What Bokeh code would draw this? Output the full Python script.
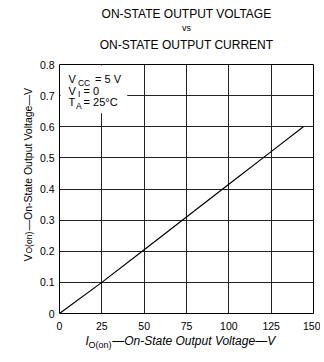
from bokeh.plotting import figure
from bokeh.models import Range1d, FixedTicker, Label
from bokeh.embed import file_html
from bokeh.resources import INLINE
import math

# data
current = [0, 25, 50, 75, 100, 125, 144]
voltage = [0, 0.10, 0.205, 0.31, 0.415, 0.52, 0.60]
x_ticks = [0, 25, 50, 75, 100, 125, 150]
y_ticks = [0, 0.1, 0.2, 0.3, 0.4, 0.5, 0.6, 0.7, 0.8]
y_tick_labels = {0: "0", 0.1: "0.1", 0.2: "0.2", 0.3: "0.3", 0.4: "0.4",
                 0.5: "0.5", 0.6: "0.6", 0.7: "0.7", 0.8: "0.8"}
title_lines = ["ON-STATE OUTPUT VOLTAGE", "vs", "ON-STATE OUTPUT CURRENT"]
axis_main = "\u2014On-State Output Voltage\u2014V"
x_sym, y_sym, sub = "I", "V", "O(on)"

FONT = "Liberation Sans"

p = figure(width=320, height=355, output_backend="svg", toolbar_location=None,
           x_range=Range1d(0, 150), y_range=Range1d(0, 0.8),
           min_border_left=59, min_border_right=7, min_border_top=64, min_border_bottom=42)
p.title.visible = False

p.outline_line_color = "black"
p.outline_line_width = 1
p.background_fill_color = "white"
p.border_fill_color = "white"

for ax in (p.xaxis, p.yaxis):
    ax.axis_line_color = None
    ax.major_tick_line_color = None
    ax.minor_tick_line_color = None
    ax.major_tick_out = 0
    ax.major_tick_in = 0
    ax.minor_tick_out = 0
    ax.major_label_text_font = FONT
    ax.major_label_text_font_size = "10.5px"
    ax.major_label_text_color = "black"

p.xaxis.ticker = FixedTicker(ticks=x_ticks)
p.yaxis.ticker = FixedTicker(ticks=y_ticks)
p.yaxis.major_label_overrides = y_tick_labels
p.xaxis.major_label_standoff = 8
p.yaxis.major_label_standoff = 5

p.grid.grid_line_color = "#222222"
p.grid.grid_line_width = 1
p.xgrid.ticker = FixedTicker(ticks=x_ticks)
p.ygrid.ticker = FixedTicker(ticks=y_ticks)

# white box behind conditions text
p.quad(left=[0.6], right=[40], bottom=[0.643], top=[0.797], fill_color="white", line_color=None)

p.line(current, voltage, line_color="black", line_width=1.2)


def lab(x, y, text, size="11px"):
    p.add_layout(Label(x=x, y=y, text=text, text_font=FONT, text_font_size=size,
                       text_align="left", text_baseline="alphabetic", text_color="black"))


def side(where, x, y, text, size, align="left", style="normal", angle=0.0):
    p.add_layout(Label(x=x, y=y, x_units="screen", y_units="screen", text=text,
                       text_font=FONT, text_font_size=size, text_align=align,
                       text_baseline="alphabetic", text_color="black",
                       text_font_style=style, angle=angle), where)


# conditions
lab(5.3, 0.752, "V")
lab(10.9, 0.742, "CC", size="8.5px")
lab(21.0, 0.752, "= 5 V")
lab(5.3, 0.716, "V")
lab(10.9, 0.706, "I", size="8.5px")
lab(14.2, 0.716, "= 0")
lab(5.3, 0.678, "T")
lab(9.8, 0.668, "A", size="8.5px")
lab(14.2, 0.678, "= 25°C")

# above panels (stacked outward from the frame)
side("above", 29, -280, sub, "9px")
side("above", 127, 10, title_lines[2], "12px", align="center")
side("above", 127, 13, title_lines[1], "9px", align="center")
side("above", 127, 17, title_lines[0], "12px", align="center")

# below panel: x axis label
side("below", 26, 6, x_sym + "\u00a0" * 7 + axis_main, "12px", style="italic")

# left panels: y axis label (rotated)
a = math.pi / 2
side("left", 3, 52, y_sym, "11px", angle=a)
side("left", 15, 83, axis_main, "10.5px", angle=a)
side("left", 26.5, 60, sub, "8.5px", angle=a)

open("out.html", "w").write(file_html(p, INLINE))
